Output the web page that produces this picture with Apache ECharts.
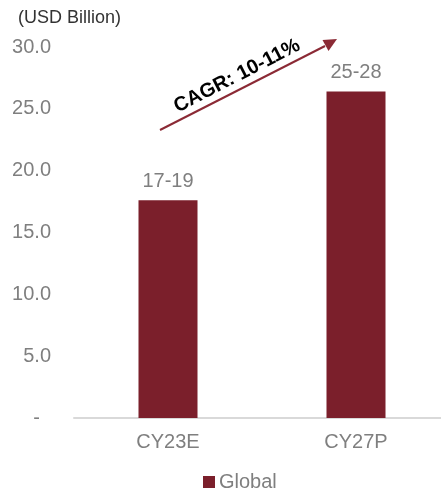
<!DOCTYPE html>
<html>
<head>
<meta charset="utf-8">
<script src="https://cdn.jsdelivr.net/npm/echarts@6/dist/echarts.min.js"></script>
<style>
  html, body { margin: 0; padding: 0; background: #fff; }
  #chart { width: 441px; height: 490px; }
</style>
</head>
<body>
<div id="chart"></div>
<script>
// chart data
const categories = ["CY23E", "CY27P"];
const globalValues = [17.6, 26.4];
const rangeLabels = ["17-19", "25-28"];
const yTicks = [0, 5, 10, 15, 20, 25, 30];

const barColor = "#7b1f2b";
const arrowColor = "#8b2a35";
const greyText = "#7f7f7f";
const fontFam = "Liberation Sans, Arial, sans-serif";

let myChart = echarts.init(document.getElementById("chart"));

let option = {
  animation: false,
  textStyle: { fontFamily: fontFam },
  grid: {
    left: 74,
    top: 47,
    width: 376,
    bottom: 72,
    outerBoundsMode: "none",
    containLabel: false
  },
  legend: {
    top: 467,
    left: 198,
    itemWidth: 12,
    itemHeight: 12,
    icon: "rect",
    textStyle: { color: greyText, fontSize: 20, padding: [0, 0, 0, -1] },
    data: ["Global"]
  },
  xAxis: {
    type: "category",
    data: categories,
    axisTick: { show: false },
    axisLine: { lineStyle: { color: "#d9d9d9", width: 2 } },
    axisLabel: { color: greyText, fontSize: 20, margin: 14 }
  },
  yAxis: {
    type: "value",
    min: yTicks[0],
    max: yTicks[yTicks.length - 1],
    interval: 5,
    splitLine: { show: false },
    axisLine: { show: false },
    axisTick: { show: false },
    axisLabel: {
      color: greyText,
      fontSize: 20,
      margin: 23,
      formatter: function(val) {
        if (val == 0) {
          return "{d|-}";
        }
        return val.toFixed(1);
      },
      rich: {
        d: { color: greyText, fontSize: 20, padding: [0, 11, 0, 0] }
      }
    }
  },
  series: [
    {
      name: "Global",
      type: "bar",
      data: globalValues,
      barWidth: 59,
      itemStyle: { color: barColor },
      label: {
        show: true,
        position: "top",
        distance: 9,
        color: greyText,
        fontSize: 20,
        formatter: function(p) {
          return rangeLabels[p.dataIndex];
        }
      }
    }
  ],
  graphic: [
    {
      type: "text",
      left: 18,
      top: 9,
      style: { text: "(USD Billion)", fill: "#333", fontSize: 18, fontFamily: fontFam }
    },
    {
      // CAGR arrow
      type: "line",
      shape: { x1: 160, y1: 130, x2: 325, y2: 46 },
      style: { stroke: arrowColor, lineWidth: 2 }
    },
    {
      type: "polygon",
      shape: { points: [[337, 39], [328.5, 51], [322.5, 40]] },
      style: { fill: arrowColor }
    },
    {
      type: "text",
      x: 237,
      y: 76,
      rotation: 0.475,
      style: {
        text: "CAGR: 10-11%",
        fill: "#000",
        fontSize: 20,
        fontWeight: "bold",
        align: "center",
        verticalAlign: "middle",
        fontFamily: fontFam
      }
    }
  ]
};

myChart.setOption(option);
</script>
</body>
</html>
